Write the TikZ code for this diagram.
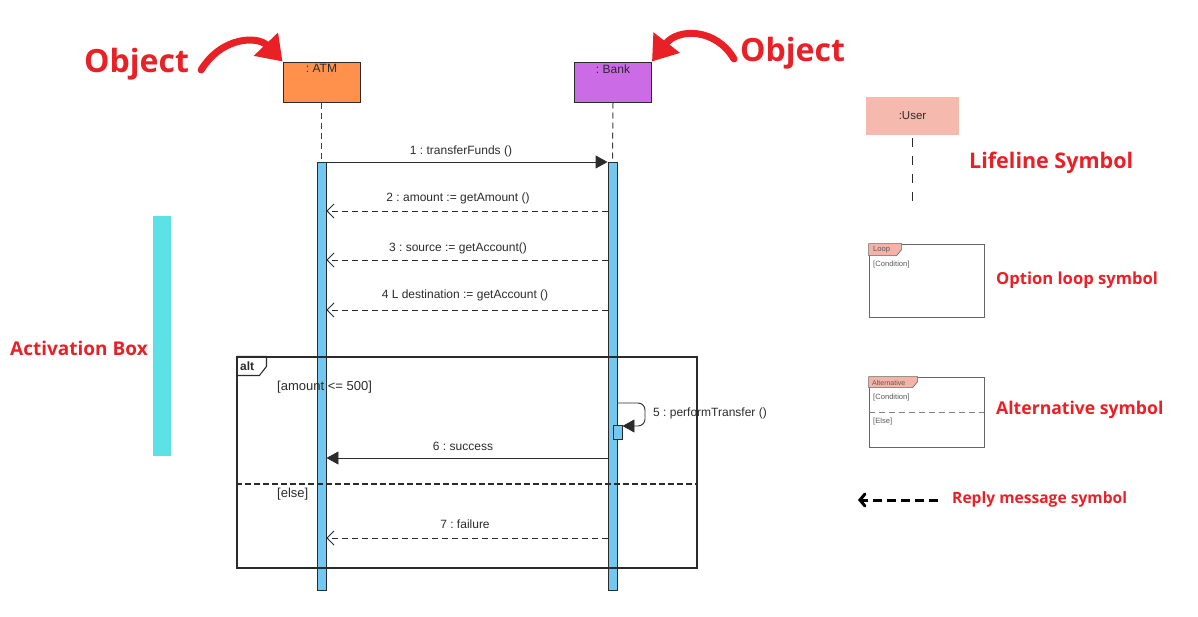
\documentclass[tikz,border=0pt]{standalone}
\usepackage{fontspec}
\setmainfont{Liberation Sans}
\newfontfamily\osans{Open Sans}
\usetikzlibrary{arrows.meta}
\definecolor{lblred}{HTML}{EA2027}
\definecolor{atmorange}{HTML}{FF914D}
\definecolor{bankviolet}{HTML}{CB6CE6}
\definecolor{actblue}{HTML}{72C8F0}
\definecolor{userpink}{HTML}{F6B9AD}
\definecolor{tabpink}{HTML}{F4B3A6}
\definecolor{barcyan}{HTML}{5CE1E6}
\definecolor{ink}{HTML}{2B2B2B}
\frenchspacing
\begin{document}
\begin{tikzpicture}[x=1pt,y=-1pt,
  objbox/.style={draw=ink, line width=1pt, minimum width=77pt, minimum height=40pt, inner sep=0pt},
  objtext/.style={anchor=north, yshift=-3pt, font=\fontsize{12}{14}\selectfont, text=ink, inner sep=0pt},
  actbar/.style={draw=ink, line width=0.9pt, fill=actblue, minimum width=9pt, inner sep=0pt},
  lifeline/.style={draw=ink!90, line width=1pt, dash pattern=on 6pt off 4pt},
  syncmsg/.style={draw=ink, line width=0.9pt, -{Triangle[length=12pt,width=13pt]}},
  replymsg/.style={draw=ink, line width=0.9pt, dash pattern=on 6pt off 4pt, -{Straight Barb[length=7pt,width=14pt]}},
  msglbl/.style={font=\fontsize{12}{14}\selectfont, text=ink, inner sep=0pt},
  guard/.style={font=\fontsize{13}{15}\selectfont, text=ink, inner sep=0pt, anchor=west},
  frame/.style={draw=ink, line width=1.1pt, inner sep=0pt},
  legframe/.style={draw=black!60, line width=0.8pt, inner sep=0pt, minimum width=115pt},
  tiny/.style={font=\fontsize{7.6}{9}\selectfont, text=black!65, inner sep=0pt, anchor=west},
  redlbl/.style={text=lblred, inner sep=0pt, anchor=west},
  redarrow/.style={draw=lblred, line width=7pt, line cap=round, -{Triangle[length=24pt,width=32pt]}}
]
\useasboundingbox (0,0) rectangle (1198,616);

% ---------- objects ----------
\node[objbox, fill=atmorange, label={[objtext]north:{: ATM}}] (atm) at (321.5,82) {};
\node[objbox, fill=bankviolet, label={[objtext]north:{: Bank}}] (bank) at (613,82) {};

\node[actbar, minimum height=428pt] (actA) at (321.5,376) {};
\node[actbar, minimum height=428pt] (actB) at (612.5,376) {};

\draw[lifeline] (atm.south) -- (actA.north);
\draw[lifeline] (bank.south) -- (actB.north);

% ---------- messages ----------
\draw[syncmsg] (actA.east |- 0,162) -- (actB.west |- 0,162);
\node[msglbl] (l1) at (461,151) {1 : transferFunds ()};
\draw[replymsg] (actB.west |- 0,211) -- (actA.east |- 0,211);
\node[msglbl] (l2) at (458,198) {2 : amount := getAmount ()};
\draw[replymsg] (actB.west |- 0,260) -- (actA.east |- 0,260);
\node[msglbl] (l3) at (458,248) {3 : source := getAccount()};
\draw[replymsg] (actB.west |- 0,310) -- (actA.east |- 0,310);
\node[msglbl] (l4) at (465,295) {4 L destination := getAccount ()};

% ---------- alt frame ----------
\node[frame, minimum width=460pt, minimum height=211pt] (alt) at (467,462.5) {};
\draw[draw=ink, line width=1.1pt] (alt.north west) -- ++(30,0) -- ++(0,10) -- ++(-7,9) -- ++(-23,0);
\node[font=\bfseries\fontsize{12}{14}\selectfont, text=ink, inner sep=0pt, anchor=west] (altlbl) at (240,366) {alt};
\node[guard] (g1) at (277,387) {[amount <= 500]};
\draw[draw=ink, line width=1.1pt, dash pattern=on 6pt off 3pt] (alt.west |- 0,484) -- (alt.east |- 0,484);
\node[guard] (g2) at (277,494) {[else]};

\node[actbar, minimum height=14pt] (act5) at (617.5,432) {};
\draw[syncmsg, rounded corners=7pt] (actB.east |- 0,403) -- (645,403) -- (645,426) -- (act5.east |- 0,426);
\node[msglbl, anchor=west] (l5) at (653,413) {5 : performTransfer ()};

\draw[syncmsg] (actB.west |- 0,458) -- (actA.east |- 0,458);
\node[msglbl] (l6) at (463,446) {6 : success};
\draw[replymsg] (actB.west |- 0,538) -- (actA.east |- 0,538);
\node[msglbl] (l7) at (465,524) {7 : failure};

% ---------- annotations ----------
\node[redlbl, font=\osans\bfseries\fontsize{32}{36}\selectfont] (obj1) at (84,64) {Object};
\node[redlbl, font=\osans\bfseries\fontsize{32}{36}\selectfont] (obj2) at (740,53) {Object};
\draw[redarrow] ([shift={(12,6)}]obj1.east) .. controls (222,36) and (258,36) .. (atm.north west);
\draw[redarrow] ([shift={(-6,6)}]obj2.west) .. controls (716,28) and (678,28) .. (bank.north east);

\node[fill=barcyan, minimum width=18pt, minimum height=240pt, inner sep=0pt] (actbox) at (162,336) {};
\node[redlbl, font=\osans\bfseries\fontsize{19}{22}\selectfont] (actboxlbl) at (10,348) {Activation Box};

% lifeline legend
\node[fill=userpink, minimum width=93pt, minimum height=38pt, inner sep=0pt, font=\fontsize{11.5}{13}\selectfont, text=ink] (user) at (912.5,116) {:User};
\coordinate (userend) at (912.5,205);
\draw[draw=ink, line width=1pt, dash pattern=on 9pt off 9pt] ([yshift=-3pt]user.south) -- (userend);
\node[redlbl, font=\osans\bfseries\fontsize{21.5}{25}\selectfont] (lifelbl) at (969,163) {Lifeline Symbol};

% loop legend
\node[legframe, minimum height=73pt] (loopf) at (926.5,280.5) {};
\filldraw[fill=tabpink, draw=black!60, line width=0.6pt] (loopf.north west) -- ++(33,0) -- ++(0,6) -- ++(-5,6) -- ++(-28,0) -- cycle;
\node[tiny] (looplbl) at (873,250) {Loop};
\node[tiny] (loopcond) at (873,265) {[Condition]};
\node[redlbl, font=\osans\bfseries\fontsize{16.6}{19}\selectfont] (looptxt) at (996,280) {Option loop symbol};

% alternative legend
\node[legframe, minimum height=70pt] (altf) at (926.5,412) {};
\filldraw[fill=tabpink, draw=black!60, line width=0.6pt] (altf.north west) -- ++(49,0) -- ++(0,5) -- ++(-5,6) -- ++(-44,0) -- cycle;
\node[tiny, font=\fontsize{7}{8}\selectfont] (altlbl2) at (872,383) {Alternative};
\node[tiny] (altcond) at (873,398) {[Condition]};
\draw[draw=black!50, line width=0.7pt, dash pattern=on 6pt off 4pt] (altf.west |- 0,412) -- (altf.east |- 0,412);
\node[tiny] (altelse) at (873,422) {[Else]};
\node[redlbl, font=\osans\bfseries\fontsize{17.6}{20}\selectfont] (alttxt) at (996,410) {Alternative symbol};

% reply legend
\coordinate (rs) at (938,500);
\coordinate (re) at (858,500);
\draw[line width=3pt, dash pattern=on 9pt off 5pt, -{Straight Barb[length=5pt,width=12pt,line cap=round]}] (rs) -- (re);
\node[redlbl, font=\osans\bfseries\fontsize{15.6}{18}\selectfont] (replytxt) at (952,499) {Reply message symbol};
\end{tikzpicture}
\end{document}
